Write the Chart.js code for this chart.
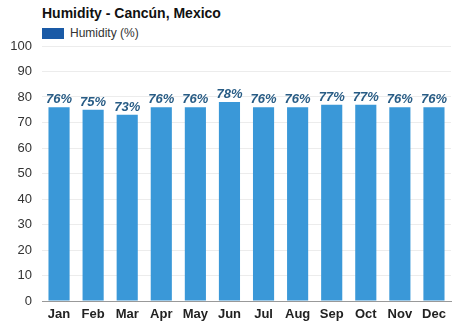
<!DOCTYPE html>
<html>
<head>
<meta charset="utf-8">
<script src="https://cdn.jsdelivr.net/npm/chart.js@4/dist/chart.umd.min.js"></script>
<style>
  html, body { margin: 0; padding: 0; background: #fff; }
  #wrap { position: relative; width: 474px; height: 325px; font-family: "Liberation Sans", Arial, sans-serif; }
  #title { position: absolute; left: 42px; top: 5px; font-size: 14px; font-weight: bold; color: #111; }
  #legend { position: absolute; left: 42px; top: 26px; font-size: 12px; color: #333; display: flex; align-items: center; }
  #legend span.box { display: inline-block; width: 22px; height: 11px; background: #1a5aa6; margin-right: 6px; }
  canvas { position: absolute; left: 0; top: 0; }
</style>
</head>
<body>
<div id="wrap">
  <div id="title">Humidity - Cancún, Mexico</div>
  <div id="legend"><span class="box"></span>Humidity (%)</div>
  <canvas id="chart" width="474" height="325"></canvas>
</div>
<script>
// 每月平均湿度
const months = ['Jan', 'Feb', 'Mar', 'Apr', 'May', 'Jun', 'Jul', 'Aug', 'Sep', 'Oct', 'Nov', 'Dec'];
const humidity = [76, 75, 73, 76, 76, 78, 76, 76, 77, 77, 76, 76];
const yTicks = [0, 10, 20, 30, 40, 50, 60, 70, 80, 90, 100];

// 柱顶百分比标签
const valueLabels = {
    id: 'valueLabels',
    afterDatasetsDraw(chart) {
        const ctx = chart.ctx;
        const meta = chart.getDatasetMeta(0);
        ctx.save();
        ctx.font = 'italic bold 13px "Liberation Sans", Arial, sans-serif';
        ctx.fillStyle = '#285c85';
        ctx.textAlign = 'center';
        ctx.textBaseline = 'alphabetic';
        meta.data.forEach((bar, i) => {
            ctx.fillText(humidity[i] + '%', bar.x, bar.y - 4);
        });
        ctx.restore();
    }
};

const ctx = document.getElementById('chart').getContext('2d');
new Chart(ctx, {
    type: 'bar',
    data: {
        labels: months,
        datasets: [{
            label: 'Humidity (%)',
            data: humidity,
            backgroundColor: '#3a98d8',
            barPercentage: 0.62,
            categoryPercentage: 1.0
        }]
    },
    options: {
        responsive: false,
        animation: false,
        layout: { padding: { top: 46, right: 23, left: 0, bottom: 0 } },
        plugins: {
            legend: { display: false },
            title: { display: false },
            tooltip: { enabled: false }
        },
        scales: {
            y: {
                min: 0,
                max: 100,
                afterFit(axis) { axis.width = 42; },
                afterBuildTicks(axis) { axis.ticks = yTicks.map(v => ({ value: v })); },
                ticks: {
                    color: '#333',
                    font: { size: 13, family: '"Liberation Sans", Arial, sans-serif' },
                    padding: 10
                },
                grid: { color: '#ececec', drawTicks: false },
                border: { display: false }
            },
            x: {
                afterFit(axis) { axis.height = 24; },
                ticks: {
                    color: '#222',
                    font: { size: 13, weight: 'bold', family: '"Liberation Sans", Arial, sans-serif' },
                    padding: 6
                },
                grid: { display: false, drawTicks: false, tickLength: 0 },
                border: { color: '#999' }
            }
        }
    },
    plugins: [valueLabels]
});
</script>
</body>
</html>
